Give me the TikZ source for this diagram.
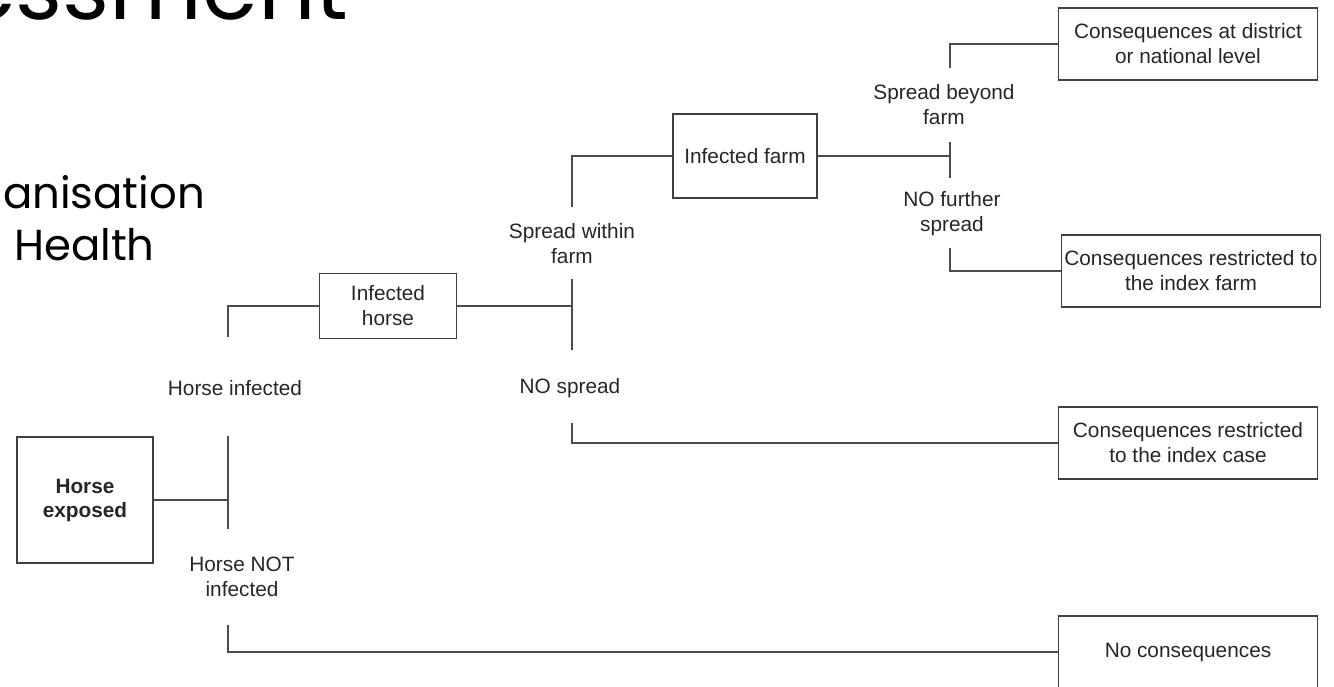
\documentclass[tikz,border=0pt]{standalone}
\usepackage{fontspec}
\setmainfont{Liberation Sans}
\newfontfamily\titlefont{Poppins}
\usepackage{tikz}

\tikzset{
    box/.style={draw=black!75, line width=0.9pt, align=center, inner sep=1pt, text=black!85},
    lbl/.style={draw=none, fill=none, align=center, text=black!85},
    branch/.style={draw=black!70, line width=0.9pt},
    cbox/.style={box, minimum width=129.5pt, minimum height=36pt},
}

\begin{document}
\begin{tikzpicture}[x=0.5pt, y=-0.5pt, font=\fontsize{10.4}{12.5}\selectfont]
            \useasboundingbox (0,0) rectangle (1334,686);
            % slide title, cut off by the tree picture
            \node[lbl, text=black, anchor=base west, font=\titlefont\fontsize{45}{54}\selectfont] (ttl) at (-47,19) {essment};
            \node[lbl, text=black, anchor=base west, font=\titlefont\fontsize{21.7}{26}\selectfont] (org1) at (-4,208) {anisation};
            \node[lbl, text=black, anchor=base west, font=\titlefont\fontsize{21.7}{26}\selectfont] (org2) at (7,260) {Health};

            % boxes
            \node[box, minimum width=68pt, minimum height=63pt, font=\fontsize{10.4}{12}\selectfont\bfseries] (exp) at (85,500) {Horse\\exposed};
            \node[box, minimum width=68.5pt, minimum height=32.5pt] (ih) at (388,306) {Infected\\horse};
            \node[box, minimum width=72pt, minimum height=42pt] (if) at (745,156) {Infected farm};
            \node[cbox] (c1) at (1188,44) {Consequences at district\\or national level};
            \node[cbox] (c2) at (1191,271) {Consequences restricted to\\the index farm};
            \node[cbox] (c3) at (1188,443) {Consequences restricted\\to the index case};
            \node[cbox] (c4) at (1188,652) {No consequences};

            % branch labels
            \node[lbl] (hi) at (235,388) {Horse infected};
            \node[lbl] (hn) at (242,577) {Horse NOT\\infected};
            \node[lbl] (sw) at (572,244) {Spread within\\farm};
            \node[lbl] (ns) at (570,388) {NO spread};
            \node[lbl] (sb) at (944,105) {Spread beyond\\farm};
            \node[lbl] (nf) at (952,214) {NO further\\spread};

            % chance points
            \coordinate (t1) at (228,500);
            \coordinate (t2) at (572,306);
            \coordinate (t3) at (950,156);
            \foreach \p/\a/\b in {t1/436/529, t2/279/350, t3/142/178} {
                \draw[branch] (\p |- 0,\a) -- (\p |- 0,\b);
            }
            \draw[branch] (exp) -- (t1);
            \draw[branch] (ih) -- (t2);
            \draw[branch] (if) -- (t3);

            % outcome brackets
            \coordinate (b1) at (228,337);
            \coordinate (b2) at (228,625);
            \coordinate (b3) at (572,207);
            \coordinate (b4) at (572,423);
            \coordinate (b5) at (950,68);
            \coordinate (b6) at (950,248);
            \foreach \i/\n in {b1/ih, b2/c4, b3/if, b4/c3, b5/c1, b6/c2} {
                \draw[branch] (\i) |- (\n);
            }
\end{tikzpicture}
\end{document}
